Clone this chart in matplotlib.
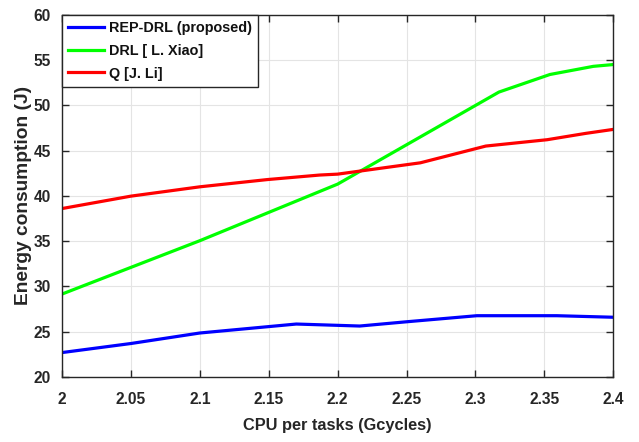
import matplotlib
matplotlib.use("Agg")
import matplotlib.pyplot as plt

plt.rcParams['font.family'] = ['Liberation Sans', 'DejaVu Sans']
plt.rcParams['font.weight'] = 'bold'

# Data
x_rep = [2.0, 2.05, 2.1, 2.17, 2.216, 2.25, 2.301, 2.359, 2.4]
y_rep = [22.7, 23.7, 24.86, 25.85, 25.63, 26.1, 26.77, 26.77, 26.6]

x_drl = [2.0, 2.1, 2.2, 2.317, 2.354, 2.3855, 2.4]
y_drl = [29.16, 35.05, 41.3, 51.46, 53.4, 54.3, 54.5]

x_q = [2.0, 2.05, 2.1, 2.149, 2.187, 2.2, 2.26, 2.3075, 2.352, 2.38, 2.4]
y_q = [38.6, 39.97, 41.0, 41.8, 42.3, 42.4, 43.65, 45.5, 46.2, 46.9, 47.34]

labels = ['REP-DRL (proposed)', 'DRL [ L. Xiao]', 'Q [J. Li]']
xticks = [2, 2.05, 2.1, 2.15, 2.2, 2.25, 2.3, 2.35, 2.4]
xticklabels = ['2', '2.05', '2.1', '2.15', '2.2', '2.25', '2.3', '2.35', '2.4']
yticks = [20, 25, 30, 35, 40, 45, 50, 55, 60]
yticklabels = ['20', '25', '30', '35', '40', '45', '50', '55', '60']

TXT = '#262626'

fig = plt.figure(figsize=(6.39, 4.42), dpi=100)
ax = fig.add_axes([0.097, 0.147, 0.8628, 0.8197])

ax.plot(x_rep, y_rep, color='#0000ff', lw=2.3, label=labels[0])
ax.plot(x_drl, y_drl, color='#00ff00', lw=2.3, label=labels[1])
ax.plot(x_q, y_q, color='#ff0000', lw=2.3, label=labels[2])

ax.set_xlim(2, 2.4)
ax.set_ylim(20, 60)
ax.set_xticks(xticks)
ax.set_xticklabels(xticklabels, fontsize=11.2, fontweight='bold', color=TXT)
ax.set_yticks(yticks)
ax.set_yticklabels(yticklabels, fontsize=11.2, fontweight='bold', color=TXT)
ax.grid(True, color='#e4e4e4', lw=0.8)
ax.set_axisbelow(True)
ax.tick_params(direction='in', top=True, right=True, length=5, width=1, colors=TXT)
ax.tick_params(axis='x', pad=11)
ax.tick_params(axis='y', pad=8)
for s in ax.spines.values():
    s.set_color(TXT)
    s.set_linewidth(1)

ax.set_xlabel('CPU per tasks (Gcycles)', fontsize=11.8, fontweight='bold', color=TXT)
ax.xaxis.set_label_coords(0.5, -0.112)
ax.set_ylabel('Energy consumption (J)', fontsize=13.8, fontweight='bold', color=TXT)
ax.yaxis.set_label_coords(-0.054, 0.5)

leg = ax.legend(loc='upper left', fontsize=10.4, frameon=True, fancybox=False,
                borderaxespad=0.0, handlelength=2.45, handletextpad=0.35,
                borderpad=0.45, labelspacing=0.6, framealpha=1)
leg.get_frame().set_edgecolor(TXT)
leg.get_frame().set_linewidth(1)
for t in leg.get_texts():
    t.set_fontweight('bold')
    t.set_color('#111111')

fig.savefig('out.png', dpi=100)
